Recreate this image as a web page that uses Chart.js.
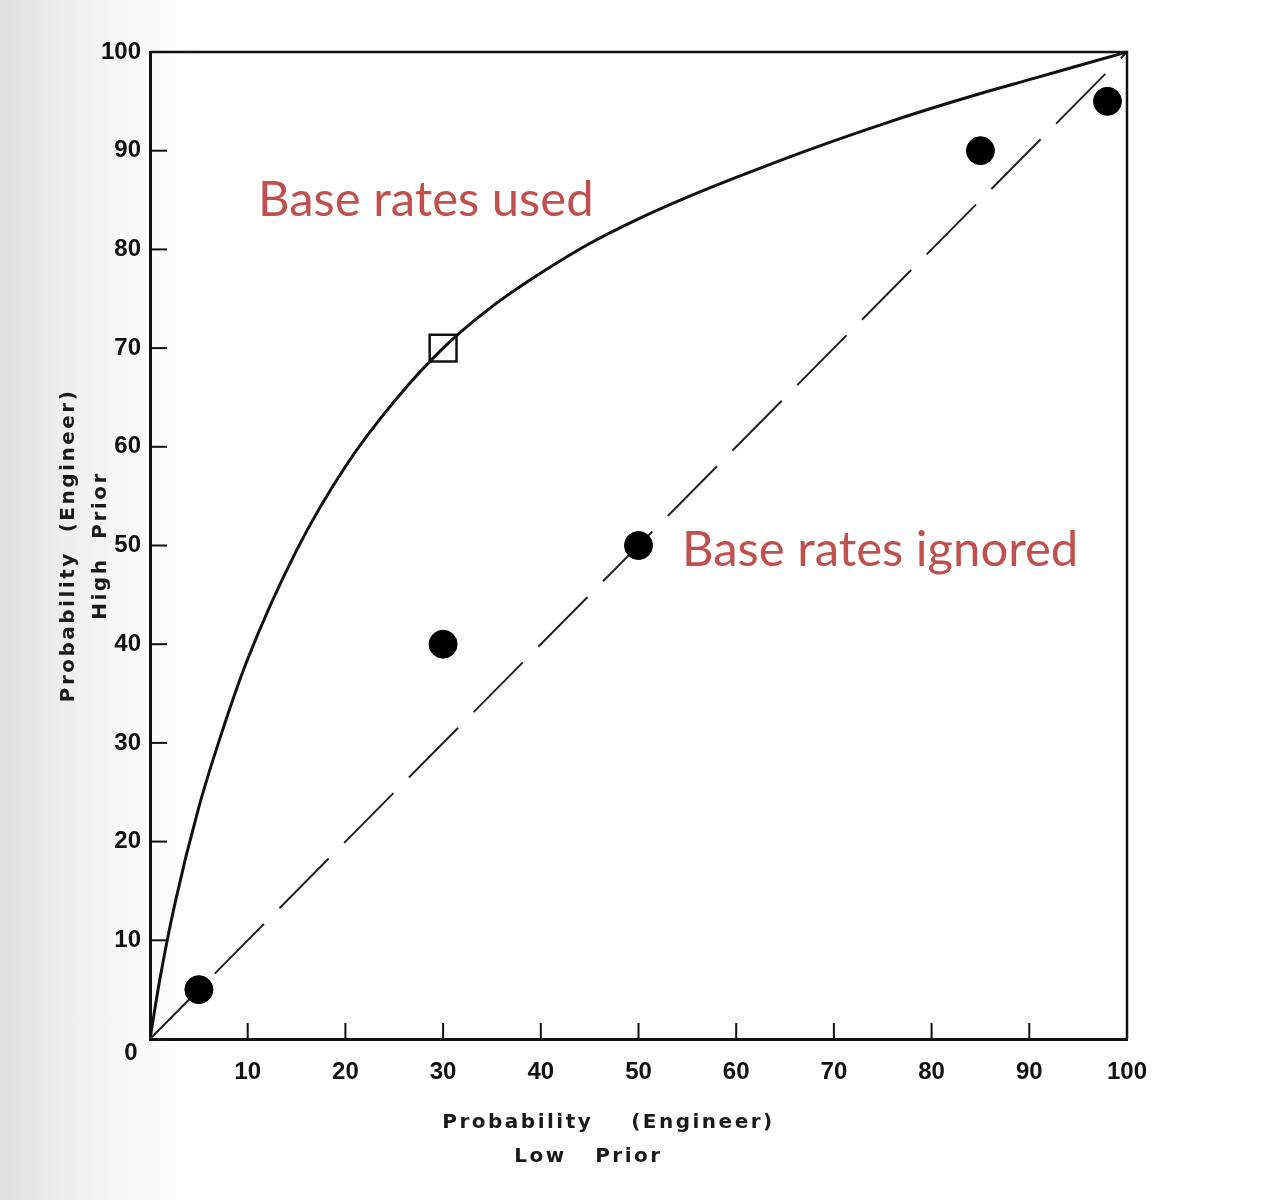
<!DOCTYPE html>
<html>
<head>
<meta charset="utf-8">
<script src="https://cdn.jsdelivr.net/npm/chart.js@4.4.1/dist/chart.umd.min.js"></script>
<style>
  html, body { margin: 0; padding: 0; }
  body {
    width: 1263px; height: 1200px; overflow: hidden;
    background: linear-gradient(to right, #dfdfdf 0px, #ededed 60px, #f8f8f8 130px, #ffffff 200px);
  }
  canvas { display: block; }
</style>
</head>
<body>
<canvas id="c" width="1263" height="1200"></canvas>
<script>
// ---- data ----
const tickValues = [0, 10, 20, 30, 40, 50, 60, 70, 80, 90, 100];
const tickLabels = ['0', '10', '20', '30', '40', '50', '60', '70', '80', '90', '100'];

// "Base rates used" curve (low prior probability -> high prior probability)
const curveX = [0, 1, 2.5, 5, 7.5, 10, 15, 20, 25, 30, 35, 40, 45, 50, 55, 60, 65, 70, 75, 80, 85, 90, 95, 100];
const curveY = [0, 6, 13.5, 23.5, 31.5, 38.5, 49.5, 58, 64.6, 70, 74.2, 77.6, 80.6, 83.1, 85.3, 87.3, 89.2, 91, 92.7, 94.3, 95.8, 97.2, 98.6, 100];

// "Base rates ignored" diagonal
const diagX = [0, 100];
const diagY = [0, 100];

// observed judgments (filled dots)
const dotsX = [5, 30, 50, 85, 98];
const dotsY = [5, 40, 50, 90, 95];

// hollow square marker
const squareX = [30];
const squareY = [70];

const xTitle = ['Probability    (Engineer)', 'Low   Prior'];
const yTitle = ['Probability  (Engineer)', 'High  Prior'];
const notes = ['Base rates used', 'Base rates ignored'];

const zip = (xs, ys) => xs.map((x, i) => ({ x: x, y: ys[i] }));

const tickFont = { family: "'Liberation Sans Narrow', 'Liberation Sans', Arial, sans-serif", weight: 'bold', size: 24 };

const decor = {
  id: 'decor',
  afterDraw(chart) {
    const ctx = chart.ctx;
    const xs = chart.scales.x, ys = chart.scales.y;
    const a = chart.chartArea;
    ctx.save();
    // top and right frame lines
    ctx.strokeStyle = '#111';
    ctx.lineWidth = 2.5;
    ctx.beginPath();
    ctx.moveTo(a.left, a.top);
    ctx.lineTo(a.right, a.top);
    ctx.lineTo(a.right, a.bottom);
    ctx.stroke();
    // inward ticks
    ctx.lineWidth = 2;
    tickValues.forEach(v => {
      if (v === 0 || v === 100) return;
      const px = xs.getPixelForValue(v);
      ctx.beginPath(); ctx.moveTo(px, a.bottom); ctx.lineTo(px, a.bottom - 16); ctx.stroke();
      const py = ys.getPixelForValue(v);
      ctx.beginPath(); ctx.moveTo(a.left, py); ctx.lineTo(a.left + 17, py); ctx.stroke();
    });
    // origin label
    ctx.fillStyle = '#111';
    ctx.font = `bold ${tickFont.size}px ${tickFont.family}`;
    ctx.textAlign = 'center';
    ctx.textBaseline = 'middle';
    ctx.fillText('0', a.left - 19, a.bottom + 14);

    // axis titles
    ctx.font = "bold 20px 'DejaVu Sans', sans-serif";
    ctx.letterSpacing = '2.5px';
    ctx.fillStyle = '#1a1a1a';
    const cx = (a.left + a.right) / 2;
    ctx.fillText(xTitle[0], cx - 30, a.bottom + 84);
    ctx.fillText(xTitle[1], cx - 50, a.bottom + 118);
    const cy = (a.top + a.bottom) / 2;
    ctx.save();
    ctx.translate(69, cy);
    ctx.rotate(-Math.PI / 2);
    ctx.fillText(yTitle[0], 0, 0);
    ctx.restore();
    ctx.save();
    ctx.translate(101, cy);
    ctx.rotate(-Math.PI / 2);
    ctx.fillText(yTitle[1], 0, 0);
    ctx.restore();
    ctx.letterSpacing = '0px';

    // red annotations
    ctx.fillStyle = '#C0504D';
    ctx.font = "49px Lato, 'Open Sans', sans-serif";
    ctx.textAlign = 'left';
    ctx.textBaseline = 'alphabetic';
    ctx.fillText(notes[0], xs.getPixelForValue(11.05), ys.getPixelForValue(83.4));
    ctx.fillText(notes[1], xs.getPixelForValue(54.45), ys.getPixelForValue(47.9));
    ctx.restore();
  }
};

new Chart(document.getElementById('c'), {
  type: 'scatter',
  data: {
    datasets: [
      {
        type: 'line',
        label: 'Base rates used',
        data: zip(curveX, curveY),
        borderColor: '#111',
        borderWidth: 3,
        pointRadius: 0,
        cubicInterpolationMode: 'monotone',
        fill: false,
        order: 3
      },
      {
        type: 'line',
        label: 'Base rates ignored',
        data: zip(diagX, diagY),
        borderColor: '#222',
        borderWidth: 2,
        borderDash: [70, 22],
        pointRadius: 0,
        fill: false,
        order: 2
      },
      {
        label: 'Judgments',
        data: zip(dotsX, dotsY),
        backgroundColor: '#000',
        borderColor: '#000',
        pointRadius: 14,
        pointHoverRadius: 14,
        order: 1
      },
      {
        label: 'Square',
        data: zip(squareX, squareY),
        pointStyle: 'rect',
        backgroundColor: 'rgba(0,0,0,0)',
        borderColor: '#111',
        borderWidth: 2.5,
        pointRadius: 19,
        pointHoverRadius: 19,
        order: 0
      }
    ]
  },
  options: {
    responsive: false,
    animation: false,
    devicePixelRatio: 1,
    layout: { padding: { left: 0, top: 52, right: 136, bottom: 0 } },
    plugins: { legend: { display: false }, tooltip: { enabled: false } },
    scales: {
      x: {
        type: 'linear',
        min: 0, max: 100,
        afterFit: s => { s.height = 161; },
        afterBuildTicks: s => { s.ticks = tickValues.map(v => ({ value: v })); },
        grid: { display: true, drawOnChartArea: false, drawTicks: false },
        border: { display: true, color: '#111', width: 3 },
        ticks: {
          padding: 19,
          color: '#111',
          font: tickFont,
          maxRotation: 0,
          callback: (v) => { const i = tickValues.indexOf(v); return (v === 0 || i < 0) ? '' : tickLabels[i]; }
        }
      },
      y: {
        type: 'linear',
        min: 0, max: 100,
        afterFit: s => { s.width = 150; },
        afterBuildTicks: s => { s.ticks = tickValues.map(v => ({ value: v })); },
        grid: { display: true, drawOnChartArea: false, drawTicks: false },
        border: { display: true, color: '#111', width: 3 },
        ticks: {
          padding: 9,
          color: '#111',
          font: tickFont,
          callback: (v) => { const i = tickValues.indexOf(v); return (v === 0 || i < 0) ? '' : tickLabels[i]; }
        }
      }
    }
  },
  plugins: [decor]
});
</script>
</body>
</html>
